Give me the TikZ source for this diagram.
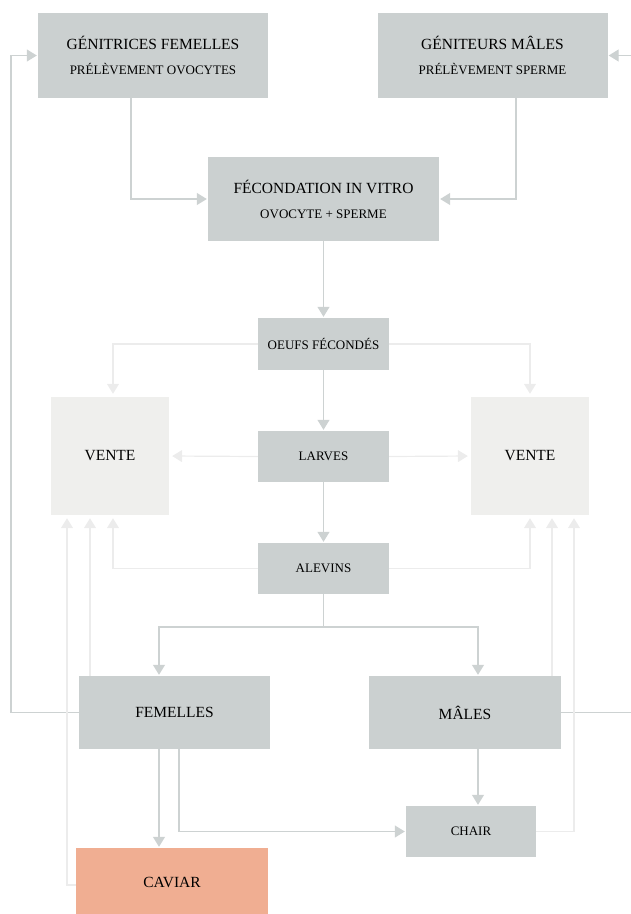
\documentclass[tikz,border=0pt]{standalone}
\usepackage{fontspec}
\setmainfont{Liberation Serif}
\usepackage{tikz}
\usetikzlibrary{shapes,
                arrows.meta,
                calc,
                positioning}
\definecolor{boxgrey}{HTML}{CBD0D0}
\definecolor{ventegrey}{HTML}{EFEFED}
\definecolor{caviarpink}{HTML}{F0AE92}
\definecolor{linegrey}{HTML}{CDD2D2}
\definecolor{linelight}{HTML}{ECECEC}
\newcommand{\bigtxt}{\fontsize{15.5}{25}\selectfont}
\newcommand{\smalltxt}{\fontsize{13}{25}\selectfont}
\tikzstyle{stage} = [rectangle, fill=boxgrey, inner sep=0pt, align=center, font=\smalltxt]
\tikzstyle{vente} = [rectangle, fill=ventegrey, inner sep=0pt, minimum width=118pt, minimum height=118pt, font=\bigtxt]
\tikzstyle{arrow} = [line width=1.2pt, draw=linegrey, -{Triangle[width=12pt,length=10pt,fill=linegrey]}, shorten >=1pt]
\tikzstyle{lightarrow} = [line width=1.2pt, draw=linelight, -{Triangle[width=12pt,length=10pt,fill=linelight]}, shorten >=3pt]

\begin{document}
\begin{tikzpicture}[x=1pt,y=-1pt]
\useasboundingbox (0,0) rectangle (631,914);
% parents
\node[stage, minimum width=230pt, minimum height=85pt] (genf) at (153,55.5) {{\bigtxt GÉNITRICES FEMELLES}\\PRÉLÈVEMENT OVOCYTES};
\node[stage, minimum width=230pt, minimum height=85pt] (genm) at (492.5,55.5) {{\bigtxt GÉNITEURS MÂLES}\\PRÉLÈVEMENT SPERME};
\node[stage, minimum width=231pt, minimum height=84pt] (fiv) at (323.5,199) {{\bigtxt FÉCONDATION IN VITRO}\\OVOCYTE + SPERME};
% growth
\node[stage, minimum width=131pt, minimum height=52pt] (oeufs) at (323.5,344) {OEUFS FÉCONDÉS};
\node[stage, minimum width=131pt, minimum height=51pt] (larves) at (323.5,456.5) {LARVES};
\node[stage, minimum width=131pt, minimum height=51pt] (alevins) at (323.5,568.5) {ALEVINS};
\node[vente] (ventel) at (110,456) {VENTE};
\node[vente] (venter) at (530,456) {VENTE};
% adults
\node[stage, minimum width=191pt, minimum height=73pt, font=\bigtxt] (fem) at (174.5,712.5) {FEMELLES};
\node[stage, minimum width=192pt, minimum height=73pt, font=\bigtxt] (males) at (465,712.5) {MÂLES};
\node[stage, minimum width=130pt, minimum height=51pt] (chair) at (471,831.5) {CHAIR};
\node[rectangle, fill=caviarpink, inner sep=0pt, minimum width=192pt, minimum height=68pt, font=\bigtxt] (caviar) at (172,882) {CAVIAR};
\coordinate (split) at (323.5,627);
\coordinate (loopl) at (11,0);
\coordinate (loopr) at (634,0);

\draw[arrow] ([xshift=-22pt]genf.south) |- (fiv.west);
\draw[arrow] ([xshift=23.5pt]genm.south) |- (fiv.east);
\draw[arrow] (fiv.south) -- (oeufs.north);
\draw[arrow] (oeufs.south) -- (larves.north);
\draw[arrow] (larves.south) -- (alevins.north);
\draw[line width=1.2pt, draw=linegrey] (alevins.south) -- (split);
\draw[arrow] (split) -| ([xshift=-15.5pt]fem.north);
\draw[arrow] (split) -| ([xshift=13pt]males.north);
\draw[arrow] ([xshift=-15.5pt]fem.south) -- ([xshift=-15.5pt]fem.south |- caviar.north);
\draw[arrow] ([xshift=4.5pt]fem.south) |- (chair.west);
\draw[arrow] ([xshift=13pt]males.south) -- ([xshift=13pt]males.south |- chair.north);
% back to the parents
\draw[arrow] (fem.west) -- (fem.west -| loopl) |- (genf.west);
\draw[arrow] (males.east) -- (males.east -| loopr) |- (genm.east);
% sales
\draw[lightarrow] (oeufs.west) -| ([xshift=3pt]ventel.north);
\draw[lightarrow] (oeufs.east) -| (venter.north);
\draw[lightarrow] (larves.west) -- (ventel.east);
\draw[lightarrow] (larves.east) -- (venter.west);
\draw[lightarrow] (alevins.west) -| ([xshift=3pt]ventel.south);
\draw[lightarrow] (alevins.east) -| (venter.south);
\draw[lightarrow] ([xshift=-20pt]ventel.south |- fem.north) -- ([xshift=-20pt]ventel.south);
\draw[lightarrow] ([yshift=-3pt]caviar.west) -| ([xshift=-43pt]ventel.south);
\draw[lightarrow] ([xshift=22pt]venter.south |- males.north) -- ([xshift=22pt]venter.south);
\draw[lightarrow] (chair.east) -| ([xshift=44pt]venter.south);
\end{tikzpicture}
\end{document}
